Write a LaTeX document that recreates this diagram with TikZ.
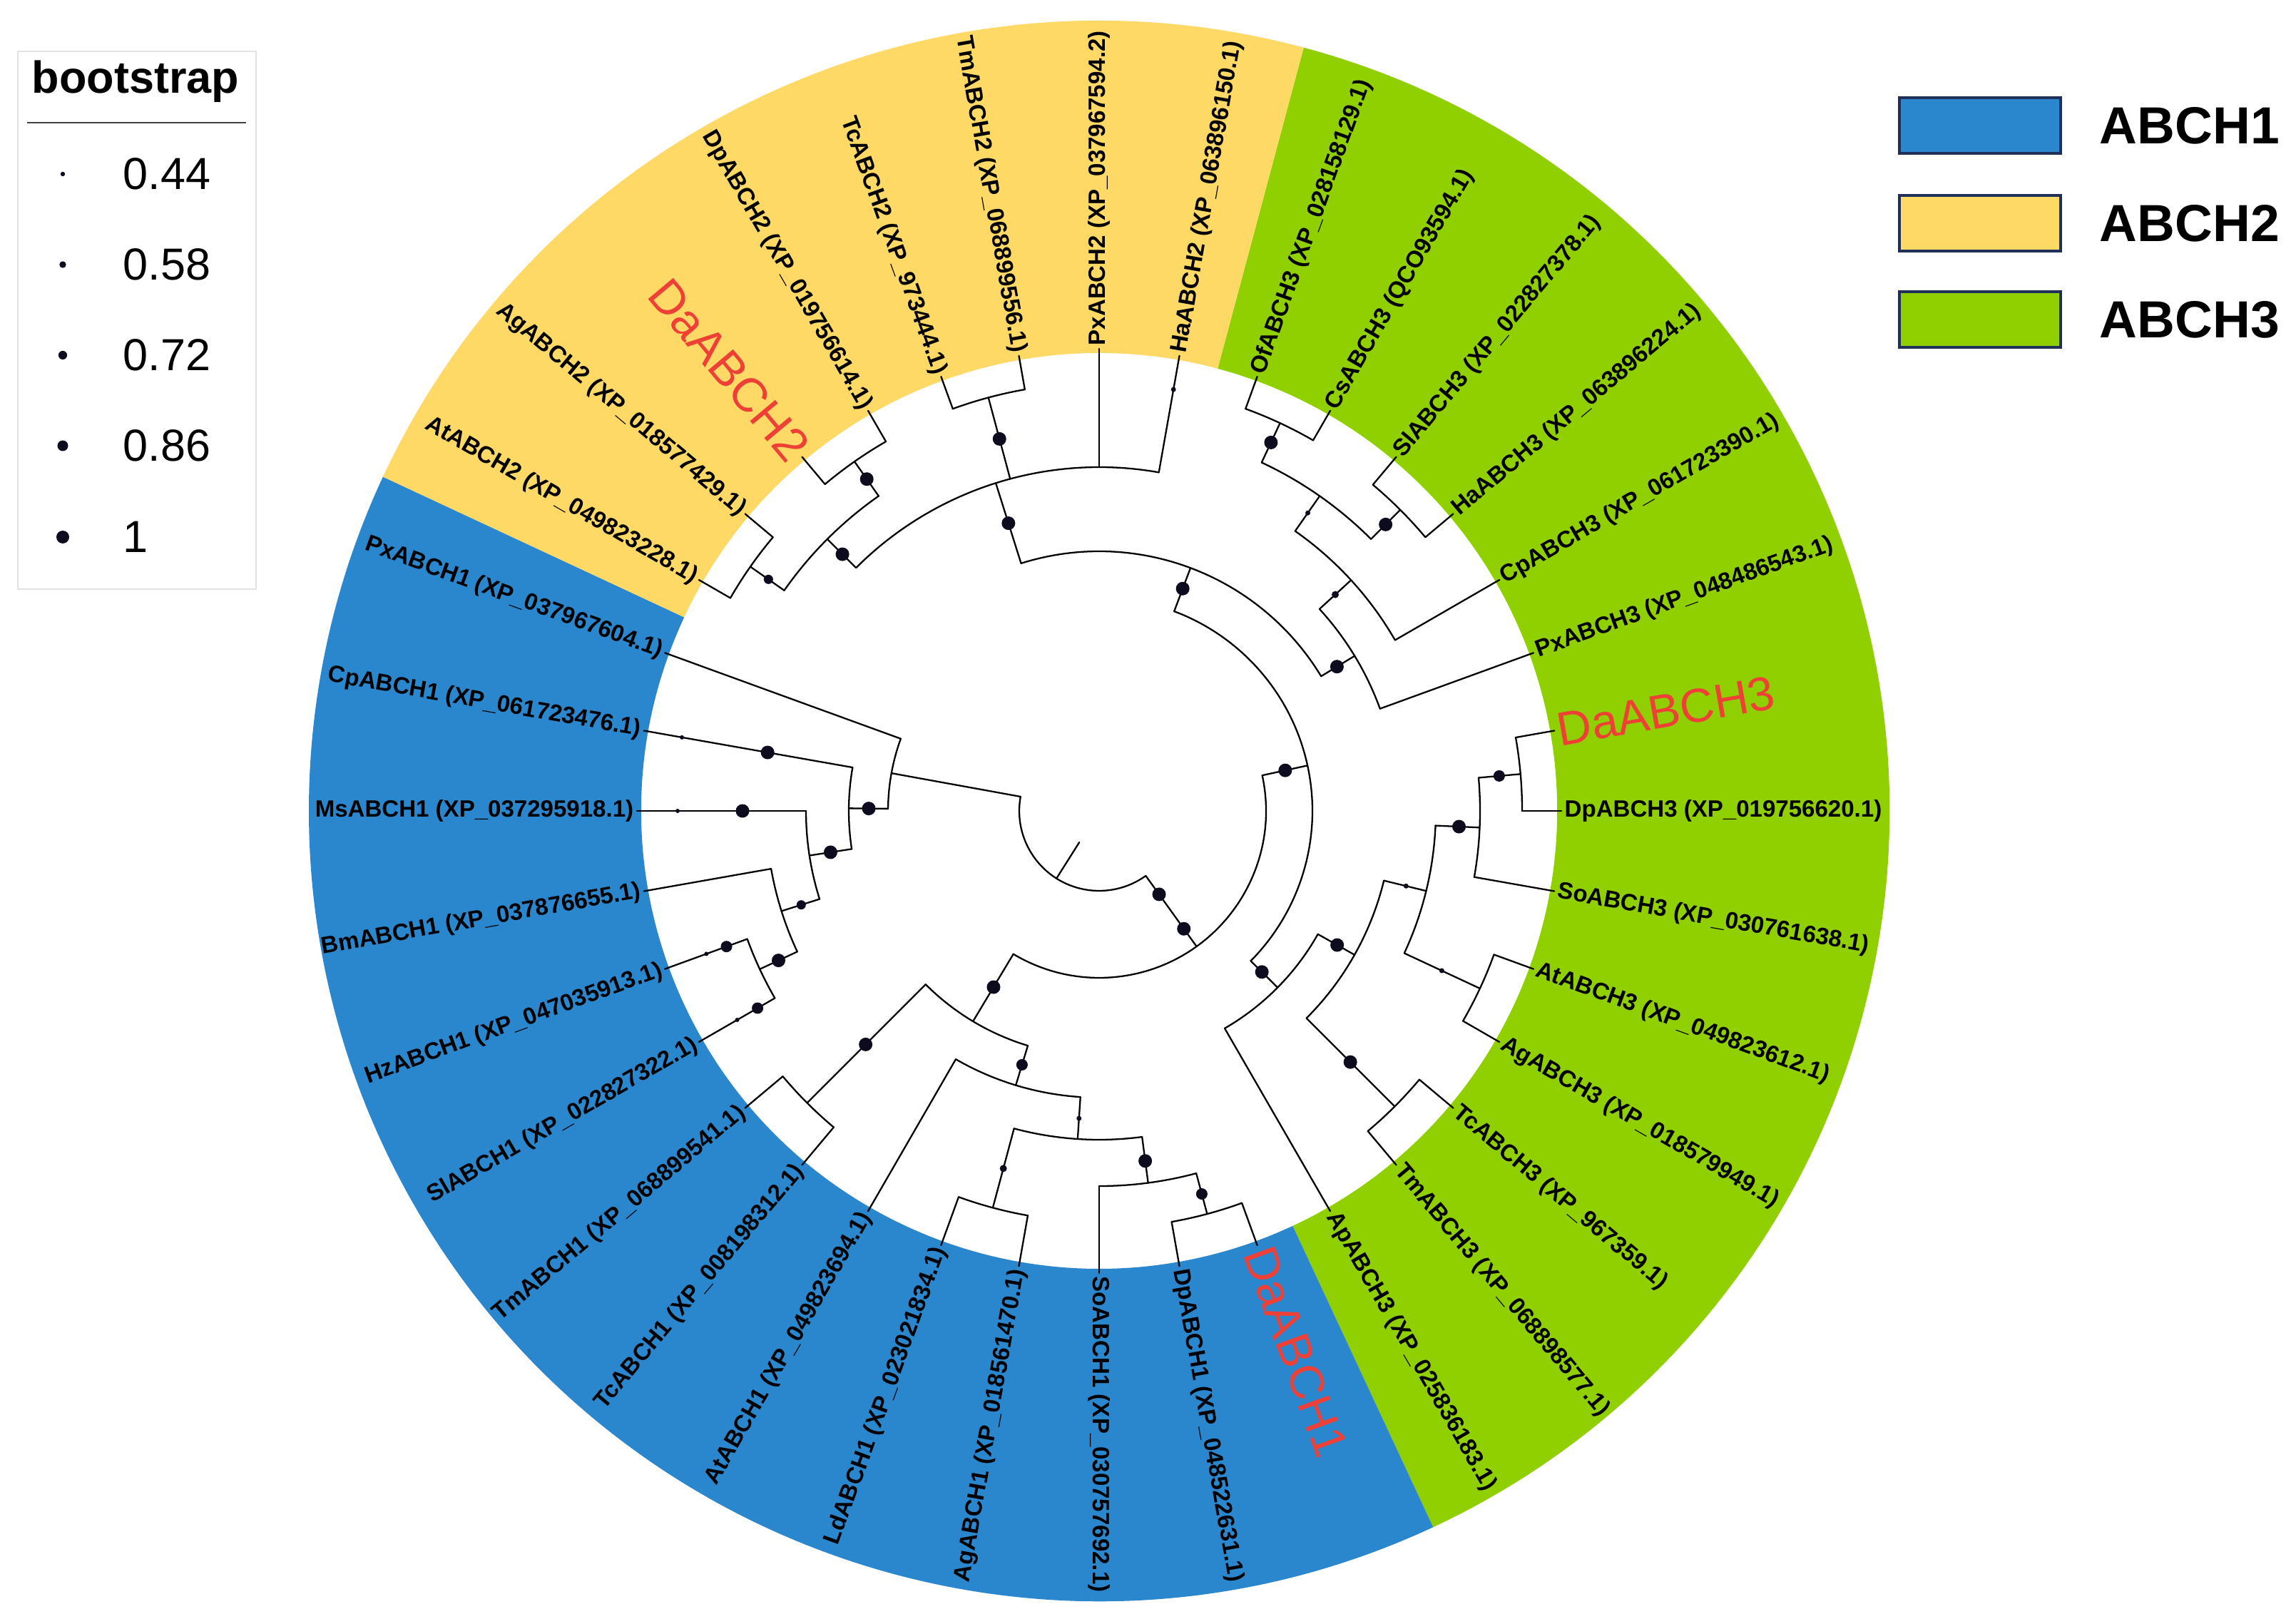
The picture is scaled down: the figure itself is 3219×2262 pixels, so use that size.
\documentclass[tikz,border=0pt]{standalone}
\usepackage{fontspec}
\setmainfont{Liberation Sans}
\definecolor{cblue}{RGB}{42,135,205}
\definecolor{cyellow}{RGB}{255,217,102}
\definecolor{cgreen}{RGB}{145,208,0}
\definecolor{cred}{RGB}{238,64,54}
\definecolor{cdot}{RGB}{12,12,30}
\definecolor{cnavy}{RGB}{32,48,90}
\definecolor{cgray}{RGB}{226,226,226}
\begin{document}
\begin{tikzpicture}[x=0.01cm,y=0.01cm,
  br/.style={line width=0.65pt,line cap=round,line join=round},
  lab/.style={font=\bfseries\fontsize{9.4}{11}\selectfont,inner sep=0pt},
  rlab/.style={font=\fontsize{19}{22}\selectfont,text=cred,inner sep=0pt}]
\useasboundingbox (0,0) rectangle (3219,2262);
\fill[white] (0,0) rectangle (3219,2262);
\begin{scope}[shift={(1541,1125)}]
% coloured ring
\fill[cgreen] (-65:642) arc[start angle=-65,end angle=75,radius=642] -- (75:1108) arc[start angle=75,end angle=-65,radius=1108] -- cycle;
\fill[cyellow] (75:642) arc[start angle=75,end angle=155,radius=642] -- (155:1108) arc[start angle=155,end angle=75,radius=1108] -- cycle;
\fill[cblue] (155:642) arc[start angle=155,end angle=295,radius=642] -- (295:1108) arc[start angle=295,end angle=155,radius=1108] -- cycle;
% radial branches
\foreach \a/\p/\q in {237.7/52/112, 169.7/112/296, 305.7/112/234, 12.3/234/299,
  239.06/234/344, 315.3/299/352, 69.4/299/364, 330.6/352/411, 315/411/586,
  346.25/411/472, 335/472/589, 357.5/472/534, 5/534/593, 31.25/364/419,
  42.5/419/479, 55/479/539, 65/539/600, 45/539/597, 107.5/364/482,
  105/482/600, 135/482/539, 125/539/598, 145/539/597, 179.4/296/351,
  188.75/351/411, 197.5/411/467, 205/467/525, 225/344/579, 253.1/344/402,
  266.25/402/461, 255/461/576, 277.5/461/526, 285/526/585}
  \draw[br] (\a:\p) -- (\a:\q);
% arcs
\foreach \r/\s/\e in {112/169.7/305.7, 234/12.3/-120.94, 299/69.4/-44.7,
  352/-60/-29.4, 411/-45/-13.75, 586/-50/-40, 472/-25/-2.5, 589/-30/-20,
  534/-10/5, 593/0/10, 364/31.25/107.5, 419/20/42.5, 479/30/55, 539/45/65,
  600/60/70, 597/40/50, 482/80/135, 600/100/110, 539/125/145, 598/120/130,
  597/140/150, 296/160/179.4, 351/170/188.75, 411/180/197.5, 467/190/205,
  525/200/210, 344/225/253.1, 579/220/230, 402/240/266.25, 461/255/277.5,
  576/250/260, 526/270/285, 585/280/290}
  \draw[br] (\s:\r) arc[start angle=\s,end angle=\e,radius=\r];
% leaves with labels
\foreach \a/\r/\t in {150/597/{AtABCH2 (XP\_049823228.1)}, 140/597/{AgABCH2 (XP\_018577429.1)},
  120/598/{DpABCH2 (XP\_019756614.1)}, 110/600/{TcABCH2 (XP\_973444.1)},
  100/600/{TmABCH2 (XP\_068899556.1)}, 90/482/{PxABCH2 (XP\_037967594.2)},
  80/482/{HaABCH2 (XP\_063896150.1)}, 70/600/{OfABCH3 (XP\_028158129.1)},
  60/600/{CsABCH3 (QCO93594.1)}, 50/597/{SlABCH3 (XP\_022827378.1)},
  40/597/{HaABCH3 (XP\_063896224.1)}, 30/479/{CpABCH3 (XP\_061723390.1)},
  20/419/{PxABCH3 (XP\_048486543.1)}, 0/593/{DpABCH3 (XP\_019756620.1)},
  350/534/{SoABCH3 (XP\_030761638.1)}, 340/589/{AtABCH3 (XP\_049823612.1)},
  330/589/{AgABCH3 (XP\_018579949.1)}, 320/586/{TcABCH3 (XP\_967359.1)},
  310/586/{TmABCH3 (XP\_068898577.1)}, 300/352/{ApABCH3 (XP\_025836183.1)},
  280/585/{DpABCH1 (XP\_048522631.1)}, 270/526/{SoABCH1 (XP\_030757692.1)},
  260/576/{AgABCH1 (XP\_018561470.1)}, 250/576/{LdABCH1 (XP\_023021834.1)},
  240/402/{AtABCH1 (XP\_049823694.1)}, 230/579/{TcABCH1 (XP\_008198312.1)},
  220/579/{TmABCH1 (XP\_068899541.1)}, 210/525/{SlABCH1 (XP\_022827322.1)},
  200/525/{HzABCH1 (XP\_047035913.1)}, 190/467/{BmABCH1 (XP\_037876655.1)},
  180/411/{MsABCH1 (XP\_037295918.1)}, 170/351/{CpABCH1 (XP\_061723476.1)},
  160/296/{PxABCH1 (XP\_037967604.1)}}{
  \draw[br] (\a:\r) -- (\a:648);
  \pgfmathtruncatemacro\lft{(\a>90)&&(\a<270)}
  \ifnum\lft=1
    \node[lab,rotate=\a+180,anchor=east] (leaf\a) at (\a:652) {\t};
  \else
    \node[lab,rotate=\a,anchor=west] (leaf\a) at (\a:652) {\t};
  \fi
}
\foreach \a/\r/\t in {130/598/DaABCH2, 10/593/DaABCH3, 290/585/DaABCH1}{
  \draw[br] (\a:\r) -- (\a:648);
  \pgfmathtruncatemacro\lft{(\a>90)&&(\a<270)}
  \ifnum\lft=1
    \node[rlab,rotate=\a+180,anchor=east] (leaf\a) at (\a:652) {\t};
  \else
    \node[rlab,rotate=\a,anchor=west] (leaf\a) at (\a:652) {\t};
  \fi
}
% bootstrap dots
\foreach \a/\r/\s in {305.7/144/9.5, 305.7/203.5/9.5, 12.3/267/9.5, 315.3/321/9.5, 330.6/383/9.5,
  315/498/9.5, 346.25/443/3.5, 335/530/3.5, 357.5/505/9.5, 5/563/8, 69.4/333/9.5, 31.25/390/9.5,
  42.5/449/5, 55/510/3.5, 65/570/9.5, 45/568/9.5, 107.5/423/9.5, 80/600/3.5, 105/540/9.5,
  135/509/9.5, 125/568/9.5, 145/566/6.5, 179.4/323/9.5, 170/472/9.5, 170/594/3,
  188.75/381/9.5, 180/500/9.5, 180/591/3, 197.5/438/6.5, 205/496/9.5, 200/556/8,
  200/586/3, 210/553/8, 210/586/3, 239.06/288/9.5, 225/463/9.5, 253.1/372/8,
  266.25/432/3.5, 255/519/5, 277.5/495/9.5, 285/556/8}
  \fill[cdot] (\a:\r) circle[radius=\s];
\end{scope}
% bootstrap legend
\draw[cgray,line width=0.7pt,fill=white] (25,2190) rectangle (359,1436);
\node[font=\bfseries\fontsize{17.9}{20}\selectfont,inner sep=0pt] (bstitle) at (190,2148) {bootstrap};
\draw[line width=0.7pt,black!75] (38,2090) -- (345,2090);
\foreach \i/\y/\s/\t in {1/2018/3.2/0.44, 2/1891/4.7/0.58, 3/1764/6.1/0.72, 4/1637/7.5/0.86, 5/1509/9/1}{
  \fill[cdot] (88,\y) circle[radius=\s];
  \node[anchor=west,font=\fontsize{17.9}{20}\selectfont,inner sep=0pt] (bs\i) at (172,\y) {\t};
}
% clade legend
\foreach \i/\y/\c in {1/2086/cblue, 2/1949/cyellow, 3/1814/cgreen}{
  \draw[fill=\c,draw=cnavy,line width=0.9pt] (2663,\y-39) rectangle (2889,\y+39);
  \node[anchor=west,font=\bfseries\fontsize{20.8}{24}\selectfont,inner sep=0pt] (lg\i) at (2943,\y) {ABCH\i};
}
\end{tikzpicture}
\end{document}
